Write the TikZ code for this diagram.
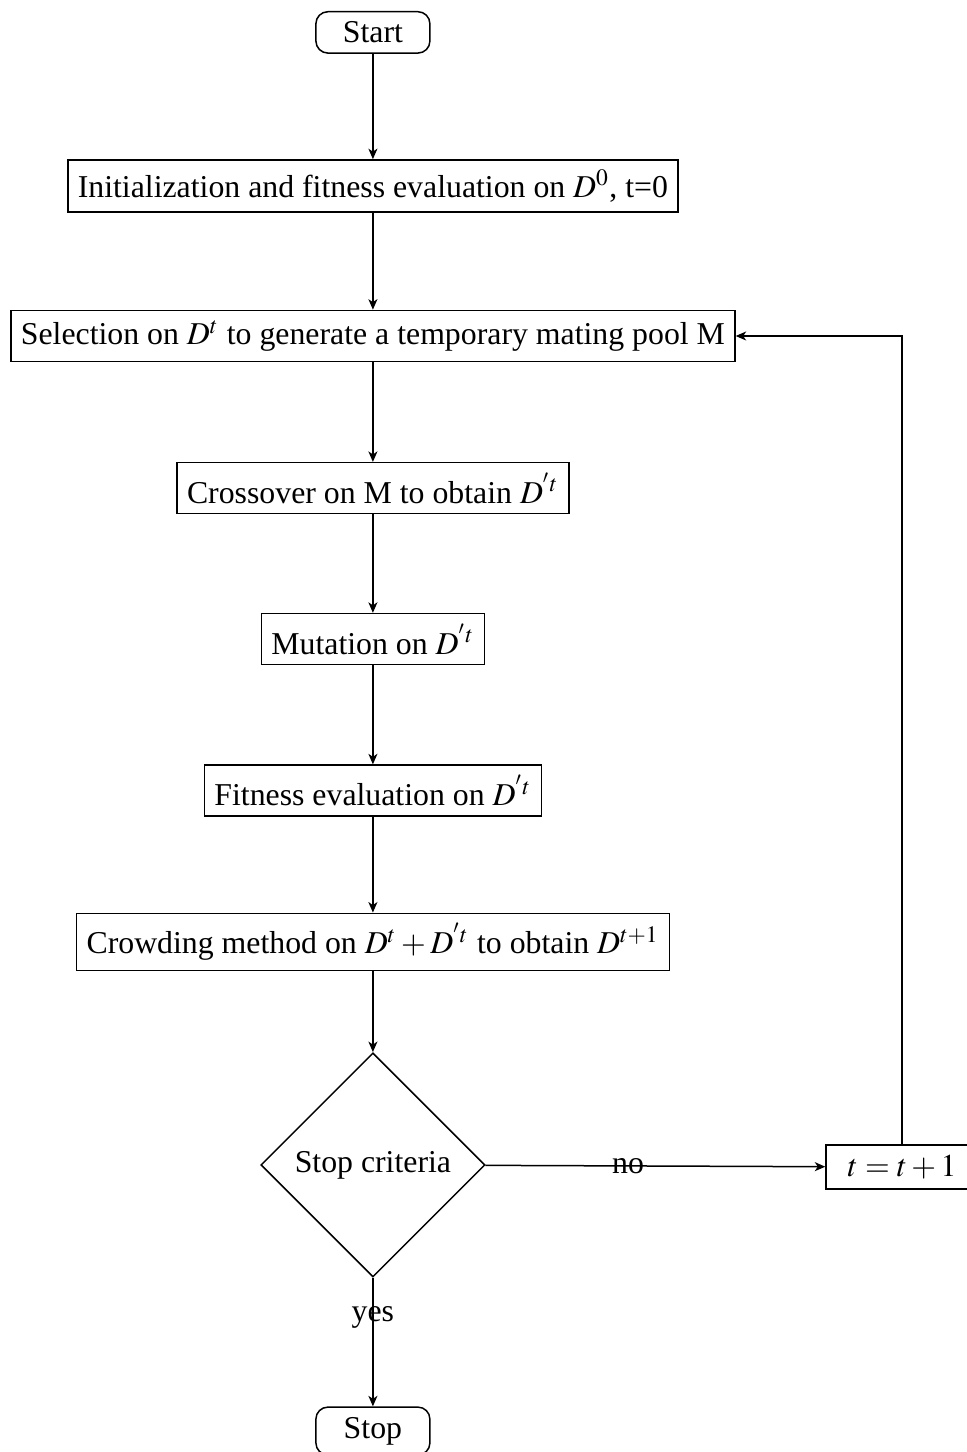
\documentclass[tikz,border=0pt]{standalone}
\usepackage{mathptmx}
\usepackage{fontspec}
\setmainfont{Liberation Serif}
\usetikzlibrary{shapes.geometric,arrows.meta}
\tikzset{
  >={Stealth[length=3.5pt,width=3pt,inset=1pt]},
  block/.style={draw, rectangle},
  terminal/.style={draw, rectangle, rounded corners, minimum width=38pt},
  decision/.style={draw, diamond, aspect=1},
}
\newcommand{\flowarrow}[2]{%
\draw[->] (#1) -- (#2);
}

\begin{document}
\begin{tikzpicture}[x=1pt,y=1pt,font=\fontsize{10.6}{12.7}\selectfont,line width=0.5pt]
\useasboundingbox (0,0) rectangle (322.3,-484);

\node[terminal] (start) at (124.3,-10.8) {Start};
\node[block] (init) at (124.3,-62) {Initialization and fitness evaluation on $D^0$, t=0};
\node[block] (sel) at (124.3,-112) {Selection on $D^t$ to generate a temporary mating pool M};
\node[block] (cross) at (124.3,-162.7) {Crossover on M to obtain $D^{'t}$};
\node[block] (mut) at (124.3,-213) {Mutation on $D^{'t}$};
\node[block] (fit) at (124.3,-263.5) {Fitness evaluation on $D^{'t}$};
\node[block] (crowd) at (124.3,-314) {Crowding method on $D^t+D^{'t}$ to obtain $D^{t+1}$};
\node[decision] (crit) at (124.3,-388.3) {Stop criteria};
\node[block, minimum width=50.7pt] (inc) at (300.7,-389) {$t=t+1$};
\node[terminal] (stop) at (124.3,-477) {Stop};

\flowarrow{start}{init}
\flowarrow{init}{sel}
\flowarrow{sel}{cross}
\flowarrow{cross}{mut}
\flowarrow{mut}{fit}
\flowarrow{fit}{crowd}
\flowarrow{crowd}{crit}

\draw[->] (crit) -- node[pos=0.42] {no} (inc);
\draw[->] (crit) -- node[pos=0.31] {yes} (stop);
\draw[->] (inc.north) |- (sel.east);

\end{tikzpicture}
\end{document}
